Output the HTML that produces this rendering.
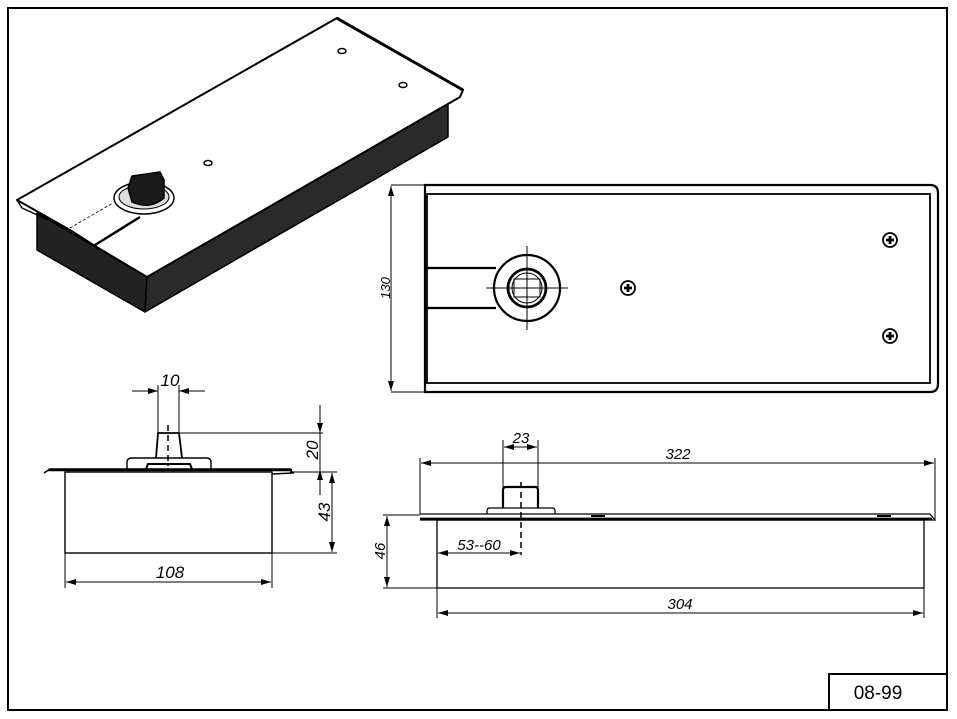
<!DOCTYPE html>
<html><head><meta charset="utf-8"><style>
html,body{margin:0;padding:0;background:#fff;}
svg{display:block;}
text{font-family:"Liberation Sans",sans-serif;font-style:italic;font-size:15px;fill:#000;}
</style></head><body>
<svg width="957" height="719" viewBox="0 0 957 719" xmlns="http://www.w3.org/2000/svg">
<defs>
<marker id="a" viewBox="0 0 10 6" refX="10" refY="3" markerWidth="10" markerHeight="6" orient="auto-start-reverse" markerUnits="userSpaceOnUse"><path d="M0,0 L10,3 L0,6 Z" fill="#000"/></marker>
</defs>
<rect x="8" y="8" width="939" height="702" fill="none" stroke="#000" stroke-width="2"/>
<rect x="829" y="674" width="118" height="36" fill="none" stroke="#000" stroke-width="2"/>
<text x="878" y="699" text-anchor="middle" style="font-style:normal;font-size:19px">08-99</text>

<!-- 3D view -->
<g stroke="#000" stroke-width="1.5" stroke-linejoin="round">
<polygon points="37,213 37,250 145,312 147,277" fill="#222"/>
<polygon points="147,277 145,312 448,137 448,103" fill="#2a2a2a"/>
<polygon points="17,200 337,18 463,90 460,97 147,277 95,246 70,230" fill="#fff" stroke-width="2"/>
<path d="M17,200 L22,208 L70,230" fill="none"/>
<path d="M337,18 L340,20 L463,90" fill="none" stroke-width="3"/>
<line x1="70" y1="228" x2="113" y2="203" stroke-width="0.8" stroke-dasharray="3,2"/>
<line x1="95" y1="245" x2="140" y2="217" stroke-width="2.5"/>
<ellipse cx="144" cy="198" rx="30" ry="16" fill="#fff"/>
<ellipse cx="144" cy="197" rx="25" ry="12" fill="#ddd" stroke-width="1"/>
<path d="M128,188 L132,176 L160,172 L164,180 L164,198 Q150,210 132,202 Z" fill="#1a1a1a"/>
</g>
<g fill="none" stroke="#000" stroke-width="1.5">
<ellipse cx="342" cy="51" rx="4" ry="2.5"/><ellipse cx="403" cy="85" rx="4" ry="2.5"/><ellipse cx="208" cy="163" rx="4" ry="2.5"/>
</g>

<!-- Top view -->
<g fill="none" stroke="#000">
<path d="M425,185 L930,185 Q938,185 938,193 L938,384 Q938,392 930,392 L425,392 Z" stroke-width="2.2"/>
<rect x="427" y="194" width="503" height="189" stroke-width="1.8"/>
<line x1="391" y1="185" x2="425" y2="185" stroke-width="1"/>
<line x1="391" y1="392" x2="425" y2="392" stroke-width="1"/>
<line x1="391" y1="186" x2="391" y2="391" stroke-width="1" marker-start="url(#a)" marker-end="url(#a)"/>
<line x1="427" y1="268" x2="496" y2="268" stroke-width="2.2"/>
<line x1="427" y1="308" x2="496" y2="308" stroke-width="2.2"/>
<circle cx="527" cy="288" r="33" stroke-width="2.2" fill="#fff"/>
<circle cx="527" cy="288" r="19" stroke-width="2.8"/>
<circle cx="527" cy="288" r="15" stroke-width="1"/>
<rect x="514" y="279" width="26" height="18" stroke-width="1"/>
<line x1="486" y1="288" x2="568" y2="288" stroke-width="1"/>
<line x1="527" y1="246" x2="527" y2="330" stroke-width="1"/>
</g>
<text transform="translate(390,288) rotate(-90)" text-anchor="middle" style="font-size:13px">130</text>
<g stroke="#000" fill="#fff" stroke-width="1.8">
<circle cx="628" cy="288" r="7"/><circle cx="890" cy="240" r="7"/><circle cx="890" cy="336" r="7"/>
</g>
<g stroke="#000" stroke-width="2.8">
<path d="M624,288h8M628,284v8M886,240h8M890,236v8M886,336h8M890,332v8"/>
</g>

<!-- Left side view -->
<g fill="none" stroke="#000">
<path d="M44,473 L50,469 L290,469 L293,473 L272,474" stroke-width="1.5"/>
<line x1="48" y1="470" x2="292" y2="470" stroke-width="2.5"/>
<rect x="65" y="472" width="207" height="81" stroke-width="1.4"/>
<path d="M127,469 L127,462 Q127,458 132,458 L206,458 Q211,458 211,462 L211,469" stroke-width="1.4"/>
<path d="M146,469 L148,464 L190,464 L192,469" stroke-width="2"/>
<path d="M156,458 L158,433 L179,433 L182,458" stroke-width="1.8"/>
<line x1="168" y1="425" x2="168" y2="466" stroke-width="1.5" stroke-dasharray="6,4"/>
<line x1="158" y1="385" x2="158" y2="433" stroke-width="1"/>
<line x1="179" y1="385" x2="179" y2="433" stroke-width="1"/>
<line x1="132" y1="391" x2="158" y2="391" stroke-width="1" marker-end="url(#a)"/>
<line x1="205" y1="391" x2="179" y2="391" stroke-width="1" marker-end="url(#a)"/>
<line x1="179" y1="433" x2="323" y2="433" stroke-width="1"/>
<line x1="320" y1="405" x2="320" y2="433" stroke-width="1" marker-end="url(#a)"/>
<line x1="320" y1="433" x2="320" y2="495" stroke-width="1"/>
<line x1="320" y1="495" x2="320" y2="470" stroke-width="1" marker-end="url(#a)"/>
<line x1="290" y1="472" x2="337" y2="472" stroke-width="1"/>
<line x1="272" y1="553" x2="337" y2="553" stroke-width="1"/>
<line x1="332" y1="473" x2="332" y2="552" stroke-width="1" marker-start="url(#a)" marker-end="url(#a)"/>
<line x1="65" y1="553" x2="65" y2="588" stroke-width="1"/>
<line x1="272" y1="553" x2="272" y2="588" stroke-width="1"/>
<line x1="66" y1="582" x2="271" y2="582" stroke-width="1" marker-start="url(#a)" marker-end="url(#a)"/>
</g>
<text x="170" y="386" text-anchor="middle" style="font-size:17px">10</text>
<text transform="translate(318,450) rotate(-90)" text-anchor="middle" style="font-size:17px">20</text>
<text transform="translate(330,512) rotate(-90)" text-anchor="middle" style="font-size:17px">43</text>
<text x="170" y="578" text-anchor="middle" style="font-size:17px">108</text>

<!-- Right side view -->
<g fill="none" stroke="#000">
<path d="M420,514 L600,514 L930,514 L935,520 L420,520" stroke-width="1.2"/>
<line x1="420" y1="519" x2="932" y2="519" stroke-width="2.8"/>
<rect x="437" y="520" width="487" height="68" stroke-width="1.3"/>
<path d="M487,514 L487,511 Q487,508 490,508 L552,508 Q555,508 555,511 L555,514" stroke-width="1.3"/>
<path d="M503,508 L503,490 Q503,487 506,487 L535,487 Q538,487 538,490 L538,508" stroke-width="2.2"/>
<line x1="521" y1="482" x2="521" y2="555" stroke-width="1.5" stroke-dasharray="6,4"/>
<line x1="503" y1="440" x2="503" y2="487" stroke-width="1"/>
<line x1="538" y1="440" x2="538" y2="487" stroke-width="1"/>
<line x1="504" y1="447" x2="537" y2="447" stroke-width="1" marker-start="url(#a)" marker-end="url(#a)"/>
<line x1="420" y1="458" x2="420" y2="514" stroke-width="1"/>
<line x1="935" y1="458" x2="935" y2="520" stroke-width="1"/>
<line x1="421" y1="463" x2="934" y2="463" stroke-width="1" marker-start="url(#a)" marker-end="url(#a)"/>
<line x1="383" y1="515" x2="420" y2="515" stroke-width="1"/>
<line x1="383" y1="588" x2="437" y2="588" stroke-width="1"/>
<line x1="387" y1="516" x2="387" y2="587" stroke-width="1" marker-start="url(#a)" marker-end="url(#a)"/>
<line x1="438" y1="553" x2="520" y2="553" stroke-width="1" marker-start="url(#a)" marker-end="url(#a)"/>
<line x1="437" y1="588" x2="437" y2="618" stroke-width="1"/>
<line x1="924" y1="588" x2="924" y2="618" stroke-width="1"/>
<line x1="438" y1="613" x2="923" y2="613" stroke-width="1" marker-start="url(#a)" marker-end="url(#a)"/>
<line x1="591" y1="516" x2="605" y2="516" stroke-width="2"/>
<line x1="877" y1="516" x2="891" y2="516" stroke-width="2"/>
</g>
<text x="521" y="443" text-anchor="middle">23</text>
<text x="678" y="459" text-anchor="middle">322</text>
<text transform="translate(385,551) rotate(-90)" text-anchor="middle">46</text>
<text x="479" y="550" text-anchor="middle">53--60</text>
<text x="680" y="609" text-anchor="middle">304</text>
</svg>
</body></html>
